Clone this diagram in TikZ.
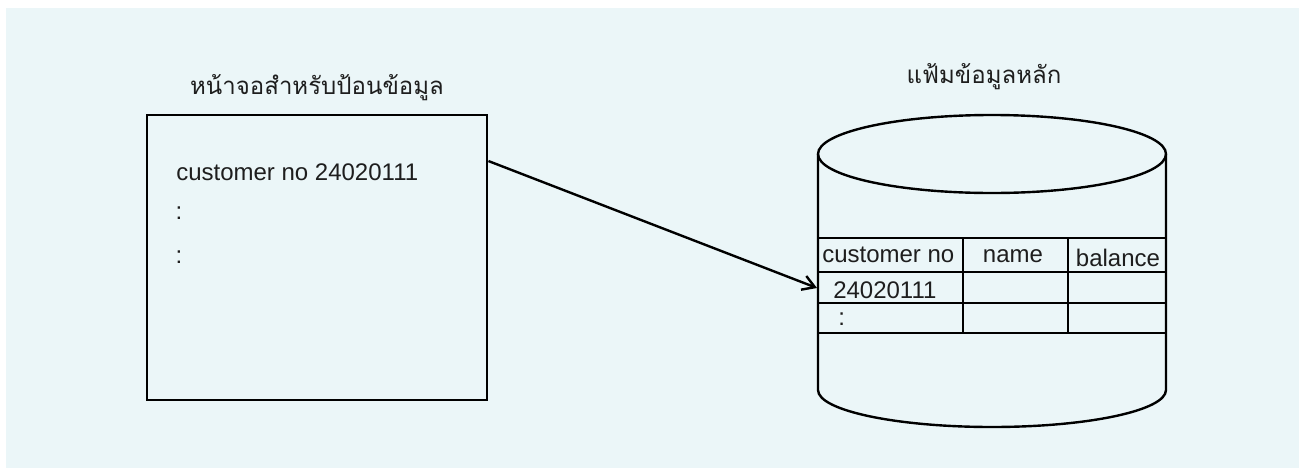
\documentclass[tikz,border=0pt]{standalone}
\usepackage{fontspec}
\setmainfont{Liberation Sans}
\newfontfamily\thaifont[Script=Thai]{Loma}
\usepackage{xcolor}
\usepackage{tikz}
\usetikzlibrary{calc}
\usetikzlibrary{positioning}
\usetikzlibrary{arrows.meta}
\definecolor{panel}{RGB}{235,246,248}
\definecolor{ink}{RGB}{30,30,30}

\begin{document}
\begin{tikzpicture}[x=0.75pt,y=-0.75pt,
	every node/.style={font=\fontsize{18}{20}\selectfont,text=ink,inner sep=0pt},
	heading/.style={font=\thaifont\fontsize{18}{22}\selectfont},
	frame/.style={line width=2.2pt},
	drum/.style={line width=1.8pt},
	rowline/.style={line width=2pt},
	colline/.style={line width=0.9pt}]

	\useasboundingbox (0,0) rectangle (1299,468);
	\fill[panel] (6,8) rectangle (1299,468);

	% data entry screen
	\node[draw,frame,minimum width=255pt,minimum height=213.75pt] (screen) at (317,257.5) {};
	\node[heading] (screen title) at (317,88) {หน้าจอสำหรับป้อนข้อมูล};
	\node[anchor=west] (entry) at (176,172) {customer no 24020111};
	\node (dots a) at (179,213) {:};
	\node (dots b) at (179,257) {:};

	% master file drum
	\draw[drum] (992,154) ellipse [x radius=174,y radius=39];
	\draw[drum] (818,154) -- (818,390) arc[start angle=180,end angle=0,x radius=174,y radius=37] -- (1166,154);
	\node[heading] (file title) at (984,77) {แฟ้มข้อมูลหลัก};

	\foreach \y in {238,272,303,333}
		\draw[rowline] (818,\y) -- (1166,\y);
	\foreach \x in {963,1068}
		\draw[colline] (\x,238) -- (\x,333);

	\node[anchor=west] (head cust) at (822,255) {customer no};
	\node (head name) at (1013,256) {name};
	\node (head bal) at (1118,258) {balance};
	\node[anchor=west] (rec cust) at (833,290) {24020111};
	\node[anchor=west] (rec more) at (838,319) {:};

	\coordinate (a) at ($(screen.north east)!0.165!(screen.south east)$);
	\coordinate (b) at (817,288);
	\draw[line width=1.8pt,-{Straight Barb[length=9pt,width=11pt]}] (a) -- (b);

\end{tikzpicture}
\end{document}
